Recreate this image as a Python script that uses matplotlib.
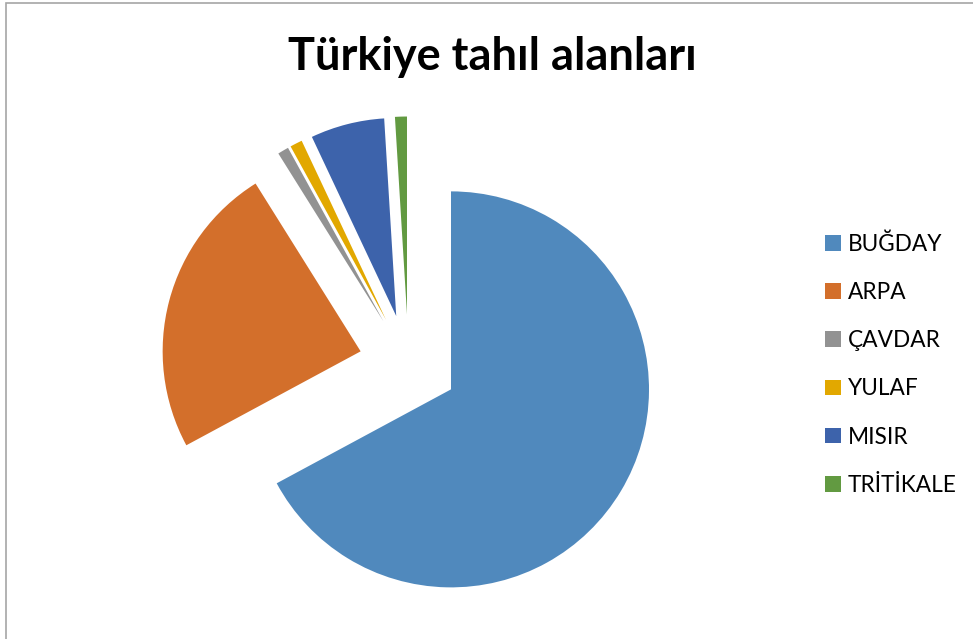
import matplotlib.pyplot as plt
from matplotlib.patches import Patch, Rectangle

# share of cereal area (%)
crops = ["BUĞDAY", "ARPA", "ÇAVDAR", "YULAF", "MISIR", "TRİTİKALE"]
shares = [67.1, 23.95, 0.9, 1.0, 6.03, 0.97]
colors = ["#5089BD", "#D36F2B", "#929292", "#E2A800", "#3D63AB", "#629A41"]
explode = [0.25, 0.25, 0.25, 0.25, 0.25, 0.25]

W, H = 973, 639
fig = plt.figure(figsize=(W / 100, H / 100), dpi=100)

# pie centre / radius in pixels
cx, cy, r = 408.5, 364, 198
lim = 1.3
side = 2 * lim * r
ax = fig.add_axes([(cx - side / 2) / W, (H - cy - side / 2) / H, side / W, side / H])
ax.pie(shares, colors=colors, explode=explode, startangle=90, counterclock=False,
       radius=1, wedgeprops=dict(linewidth=0))
ax.set_xlim(-lim, lim)
ax.set_ylim(-lim, lim)
ax.set_axis_off()

fig.text(492 / W, 1 - 57 / H, "Türkiye tahıl alanları", ha="center", va="center",
         fontsize=32.5, fontweight="bold", family="Lato")

handles = [Patch(facecolor=c, edgecolor="none") for c in colors]
fig.legend(handles, crops, loc="upper left", bbox_to_anchor=(805 / W, 1 - 213 / H),
           frameon=False, prop=dict(family="Lato", size=16.3),
           handlelength=0.68, handleheight=0.68, handletextpad=0.3, labelspacing=1.2)

# chart border (cropped on the right and bottom)
fig.patches.append(Rectangle((6 / W, -0.1), 1.2, 1 - 3 / H + 0.1, transform=fig.transFigure,
                             fill=False, edgecolor="#A6A6A6", linewidth=1.2))

fig.savefig("out.png", dpi=100)
